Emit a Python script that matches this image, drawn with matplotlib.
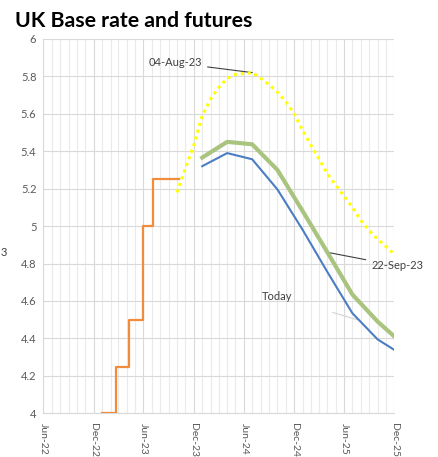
import datetime as dt

import matplotlib

matplotlib.use("Agg")
import matplotlib.dates as mdates
import matplotlib.pyplot as plt
from matplotlib.ticker import FormatStrFormatter

plt.rcParams["font.family"] = ["Lato", "DejaVu Sans"]


def d(y, m, day=1):
    return dt.date(y, m, day)


# Bank Rate, step changes
BASE_DATES = [d(2023, 1, 2), d(2023, 2, 20), d(2023, 4, 11), d(2023, 5, 30),
              d(2023, 7, 6), d(2023, 10, 7)]
BASE_RATE = [4.00, 4.25, 4.50, 5.00, 5.25, 5.25]

# futures curve on 04-Aug-23 (monthly)
AUG_DATES = [d(2023, m) for m in range(10, 13)] + \
            [d(2024, m) for m in range(1, 13)] + \
            [d(2025, m) for m in range(1, 13)]
AUG_RATE = [5.18, 5.31, 5.43,
            5.59, 5.68, 5.74, 5.79, 5.81, 5.815, 5.82, 5.79, 5.755, 5.715, 5.665, 5.60,
            5.51, 5.43, 5.36, 5.28, 5.22, 5.16, 5.10, 5.03, 4.975, 4.93, 4.89, 4.85]

# futures curves, quarterly contracts
FUT_DATES = [d(2024, 1), d(2024, 4), d(2024, 7), d(2024, 10),
             d(2025, 1), d(2025, 4), d(2025, 7), d(2025, 10), d(2026, 1)]
SEP_RATE = [5.366, 5.45, 5.437, 5.30, 5.08, 4.86, 4.635, 4.49, 4.37]
TODAY_RATE = [5.32, 5.39, 5.357, 5.196, 4.98, 4.755, 4.535, 4.395, 4.31]

fig = plt.figure(figsize=(4.38, 4.57), dpi=100)
ax = fig.add_axes([0.0989, 0.0956, 0.8014, 0.8193])

ax.plot(BASE_DATES, BASE_RATE, drawstyle="steps-post", color="#F08C3C",
        lw=1.6, zorder=4)
ax.plot(AUG_DATES, AUG_RATE, color="#FFFF00", lw=2.2, ls=(0, (1, 1.3)),
        zorder=4)
ax.plot(FUT_DATES, SEP_RATE, color="#A9C47F", lw=3.0, zorder=4)
ax.plot(FUT_DATES, TODAY_RATE, color="#4A7DC2", lw=1.5, zorder=5)

# curve labels
ax.annotate("04-Aug-23", xy=(FUT_DATES[2], AUG_RATE[9]),
            xytext=(d(2023, 9, 25), 5.872), ha="center", va="center",
            fontsize=8, color="#404040",
            arrowprops=dict(arrowstyle="-", color="#404040", lw=0.8,
                            shrinkA=2, shrinkB=0))
ax.annotate("22-Sep-23", xy=(FUT_DATES[5], SEP_RATE[5]),
            xytext=(d(2025, 9, 8), 4.788), ha="left", va="center",
            fontsize=8, color="#404040", annotation_clip=False,
            arrowprops=dict(arrowstyle="-", color="#404040", lw=0.8,
                            shrinkA=2, shrinkB=0))
ax.annotate("Today", xy=(d(2025, 7, 19), 4.50),
            xytext=(d(2024, 10, 1), 4.626), ha="center", va="center",
            fontsize=8, color="#404040",
            arrowprops=dict(arrowstyle="-", color="#d6d6d6", lw=0.9,
                            shrinkA=28, shrinkB=0))

ax.set_ylim(4, 6)
ax.set_yticks([4 + 0.2 * i for i in range(11)])
ax.yaxis.set_major_formatter(FormatStrFormatter("%g"))
ax.set_xlim(d(2022, 6), d(2025, 12))
ax.xaxis.set_major_locator(mdates.MonthLocator(bymonth=(6, 12)))
ax.xaxis.set_minor_locator(mdates.MonthLocator())
ax.xaxis.set_major_formatter(mdates.DateFormatter("%b-%y"))

ax.grid(True, which="major", color="#d9d9d9", lw=0.8)
ax.grid(True, which="minor", axis="x", color="#eaeaea", lw=0.8)
ax.set_axisbelow(True)
for s_ in ("top", "right"):
    ax.spines[s_].set_visible(False)
for s_ in ("left", "bottom"):
    ax.spines[s_].set_color("#d9d9d9")
    ax.spines[s_].set_linewidth(0.8)
ax.tick_params(axis="both", which="both", length=0, colors="#595959",
               labelsize=8)
ax.tick_params(axis="y", pad=5)
ax.tick_params(axis="x", pad=7, labelsize=7.5)
for lbl in ax.get_xticklabels():
    lbl.set_rotation(-90)
    lbl.set_ha("center")
    lbl.set_va("top")

fig.text(0.034, 0.955, "UK Base rate and futures", fontsize=15.3,
         fontweight="bold", ha="left", va="center", color="black")
fig.text(0.002, 0.448, "3", fontsize=8, color="#404040", ha="left",
         va="center")

fig.savefig("out.png", dpi=100)
